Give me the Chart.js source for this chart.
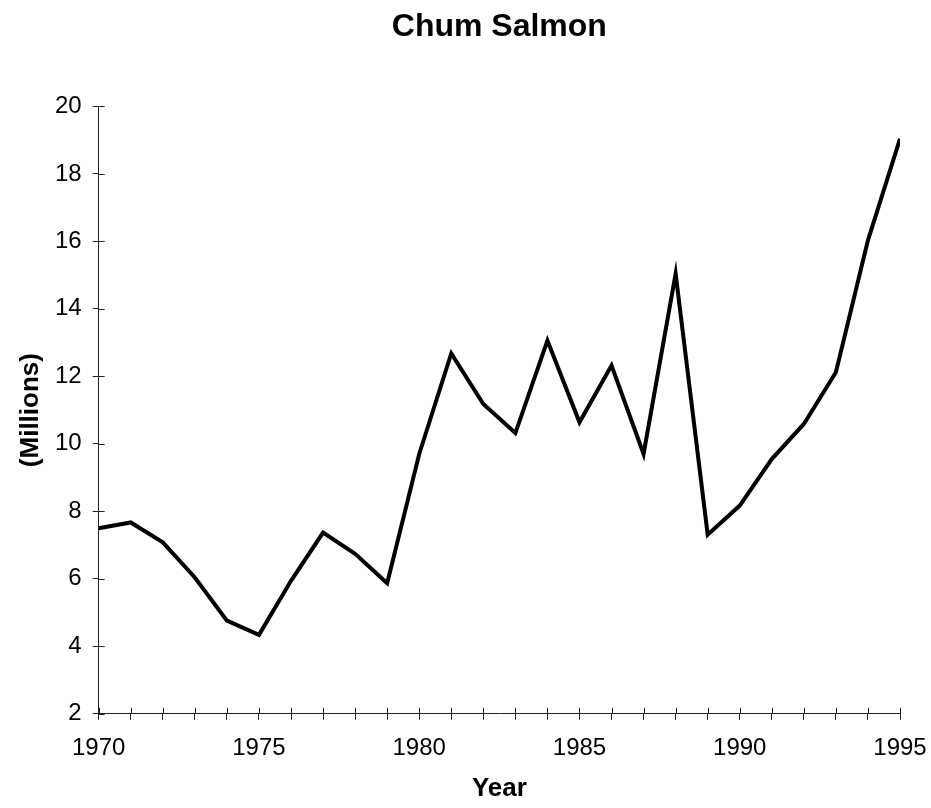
<!DOCTYPE html>
<html>
<head>
<meta charset="utf-8">
<script src="https://cdn.jsdelivr.net/npm/chart.js@4/dist/chart.umd.min.js"></script>
<style>
  html, body { margin: 0; padding: 0; background: #fff; }
  #wrap { width: 931px; height: 808px; }
</style>
</head>
<body>
<div id="wrap"><canvas id="salmonChart" width="931" height="808"></canvas></div>
<script>
const years = [1970, 1971, 1972, 1973, 1974, 1975, 1976, 1977, 1978, 1979, 1980, 1981, 1982,
               1983, 1984, 1985, 1986, 1987, 1988, 1989, 1990, 1991, 1992, 1993, 1994, 1995];
const catchMillions = [7.5, 7.67, 7.08, 6.04, 4.76, 4.34, 5.94, 7.37, 6.74, 5.87, 9.7, 12.68, 11.18,
                       10.32, 13.06, 10.64, 12.32, 9.7, 15.04, 7.31, 8.17, 9.55, 10.59, 12.12, 16.03, 19.04];
const yTicks = [2, 4, 6, 8, 10, 12, 14, 16, 18, 20];
const xLabelYears = [1970, 1975, 1980, 1985, 1990, 1995];

const fontFamily = '"Liberation Sans", Arial, Helvetica, sans-serif';
const axisColor = '#222';

// ticks in the original cross the axis line, so draw the inner half too
const crossTicks = {
    id: 'crossTicks',
    afterDatasetsDraw(chart) {
        const ctx = chart.ctx;
        const xs = chart.scales.x;
        const ys = chart.scales.y;
        ctx.save();
        ctx.strokeStyle = axisColor;
        ctx.lineWidth = 1;
        ctx.beginPath();
        xs.ticks.forEach(t => {
            const px = Math.round(xs.getPixelForValue(t.value)) + 0.5;
            ctx.moveTo(px, ys.bottom);
            ctx.lineTo(px, ys.bottom - 6);
        });
        ys.ticks.forEach(t => {
            const py = Math.round(ys.getPixelForValue(t.value)) + 0.5;
            ctx.moveTo(xs.left, py);
            ctx.lineTo(xs.left + 6, py);
        });
        ctx.stroke();
        ctx.restore();
    }
};

new Chart(document.getElementById('salmonChart'), {
    type: 'line',
    data: {
        datasets: [{
            label: 'Chum Salmon',
            data: years.map((yr, i) => ({ x: yr, y: catchMillions[i] })),
            borderColor: '#000',
            borderWidth: 4,
            pointRadius: 0,
            tension: 0,
            borderJoinStyle: 'miter',
            fill: false
        }]
    },
    options: {
        responsive: false,
        animation: false,
        layout: { padding: { left: 18, right: 2, top: 0, bottom: 10 } },
        plugins: {
            legend: { display: false },
            tooltip: { enabled: false },
            title: {
                display: true,
                fullSize: false,
                text: 'Chum Salmon',
                color: '#000',
                font: { family: fontFamily, size: 32, weight: 'bold' },
                padding: { top: 8, bottom: 60 }
            }
        },
        scales: {
            x: {
                type: 'linear',
                min: 1970,
                max: 1995,
                // tick padding inflates the right gutter; keep just room for "1995"
                afterFit: scale => { scale.paddingRight = 31; },
                ticks: {
                    stepSize: 1,
                    autoSkip: false,
                    maxRotation: 0,
                    color: '#000',
                    padding: 17,
                    font: { family: fontFamily, size: 24, lineHeight: 1 },
                    callback: v => xLabelYears.includes(v) ? String(v) : ''
                },
                grid: { drawOnChartArea: false, drawTicks: true, tickLength: 6, color: axisColor },
                border: { display: true, color: axisColor, width: 1 },
                title: {
                    display: true,
                    text: 'Year',
                    color: '#000',
                    font: { family: fontFamily, size: 26, weight: 'bold', lineHeight: 0.7 },
                    padding: { top: 2, bottom: 0 }
                }
            },
            y: {
                min: 2,
                max: 20,
                afterBuildTicks: axis => { axis.ticks = yTicks.map(v => ({ value: v })); },
                ticks: {
                    color: '#000',
                    padding: 11,
                    font: { family: fontFamily, size: 24 }
                },
                grid: { drawOnChartArea: false, drawTicks: true, tickLength: 6, color: axisColor },
                border: { display: true, color: axisColor, width: 1 },
                title: {
                    display: true,
                    text: '(Millions)',
                    color: '#000',
                    font: { family: fontFamily, size: 26, weight: 'bold', lineHeight: 1 },
                    padding: { top: 0, bottom: 0 }
                }
            }
        }
    },
    plugins: [crossTicks]
});
</script>
</body>
</html>
